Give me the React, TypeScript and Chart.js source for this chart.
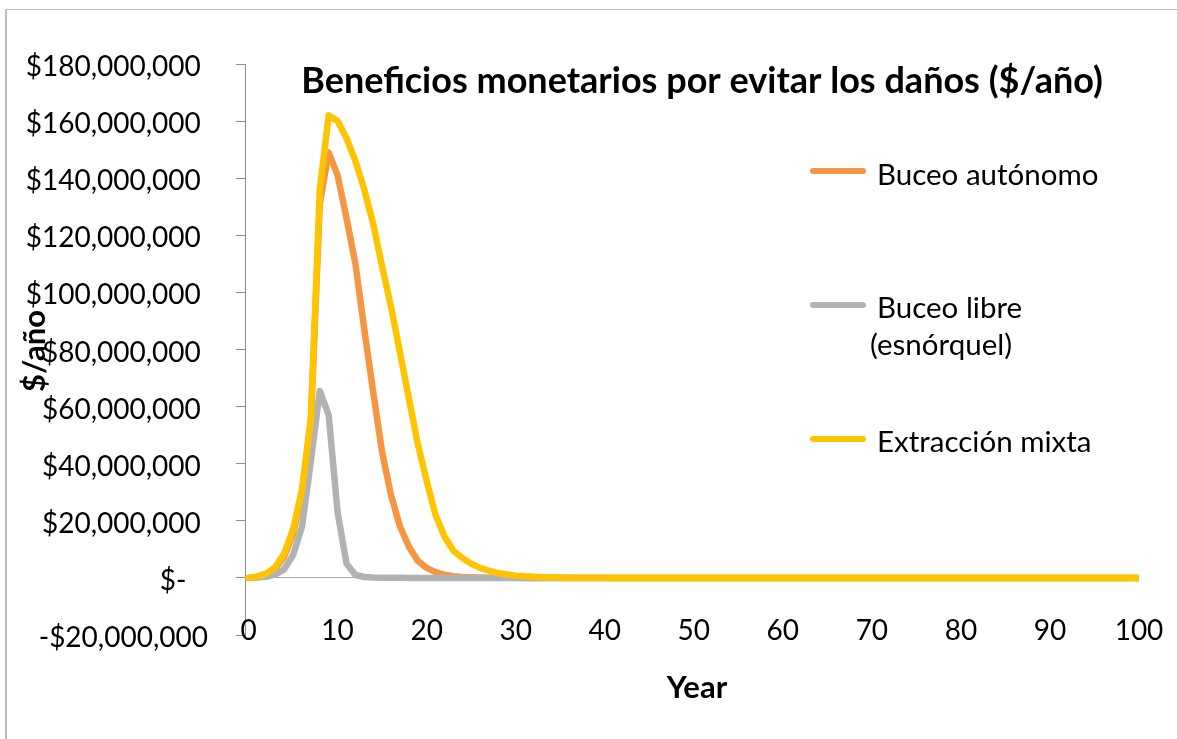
import React, { useEffect, useRef } from "react";
import { Chart, registerables } from "chart.js";

Chart.register(...registerables);

// ---- Data (values in millions of $/año) ----
const years = [
  0, 1, 2, 3, 4, 5, 6, 7, 8, 9,
  10, 11, 12, 13, 14, 15, 16, 17, 18, 19,
  20, 21, 22, 23, 24, 25, 26, 27, 28, 29,
  30, 31, 32, 33, 34, 35, 36, 37, 38, 39,
  40, 41, 42, 43, 44, 45, 46, 47, 48, 49,
  50, 51, 52, 53, 54, 55, 56, 57, 58, 59,
  60, 61, 62, 63, 64, 65, 66, 67, 68, 69,
  70, 71, 72, 73, 74, 75, 76, 77, 78, 79,
  80, 81, 82, 83, 84, 85, 86, 87, 88, 89,
  90, 91, 92, 93, 94, 95, 96, 97, 98, 99,
  100,
];

const buceoAutonomo = [
  0, 0.45, 1.4, 3.3, 7.5, 15.5, 30, 55, 131, 149,
  141, 126, 110, 87, 65, 44, 29, 18, 11, 6,
  3.5, 2, 1.1, 0.6, 0.35, 0.2, 0.1, 0.06, 0.03, 0.02,
  0.01, 0, 0, 0, 0, 0, 0, 0, 0, 0,
  0, 0, 0, 0, 0, 0, 0, 0, 0, 0,
  0, 0, 0, 0, 0, 0, 0, 0, 0, 0,
  0, 0, 0, 0, 0, 0, 0, 0, 0, 0,
  0, 0, 0, 0, 0, 0, 0, 0, 0, 0,
  0, 0, 0, 0, 0, 0, 0, 0, 0, 0,
  0, 0, 0, 0, 0, 0, 0, 0, 0, 0,
  0,
];

const buceoLibre = [
  0, 0.1, 0.4, 1.2, 3, 8, 18, 41, 65.5, 57,
  23, 5, 1, 0.3, 0.1, 0.05, 0.02, 0.01, 0, 0,
  0, 0, 0, 0, 0, 0, 0, 0, 0, 0,
  0, 0, 0, 0, 0, 0, 0, 0, 0, 0,
  0, 0, 0, 0, 0, 0, 0, 0, 0, 0,
  0, 0, 0, 0, 0, 0, 0, 0, 0, 0,
  0, 0, 0, 0, 0, 0, 0, 0, 0, 0,
  0, 0, 0, 0, 0, 0, 0, 0, 0, 0,
  0, 0, 0, 0, 0, 0, 0, 0, 0, 0,
  0, 0, 0, 0, 0, 0, 0, 0, 0, 0,
  0,
];

const extraccionMixta = [
  0, 0.5, 1.5, 3.8, 8.5, 17, 31, 56, 136, 162,
  160, 154, 146, 136, 124, 109, 95, 79, 63, 47,
  34, 22, 14.5, 9.5, 7, 5, 3.5, 2.5, 1.7, 1.2,
  0.8, 0.55, 0.4, 0.27, 0.18, 0.12, 0.08, 0.05, 0.03, 0.02,
  0.01, 0, 0, 0, 0, 0, 0, 0, 0, 0,
  0, 0, 0, 0, 0, 0, 0, 0, 0, 0,
  0, 0, 0, 0, 0, 0, 0, 0, 0, 0,
  0, 0, 0, 0, 0, 0, 0, 0, 0, 0,
  0, 0, 0, 0, 0, 0, 0, 0, 0, 0,
  0, 0, 0, 0, 0, 0, 0, 0, 0, 0,
  0,
];

const xTicks = [0, 10, 20, 30, 40, 50, 60, 70, 80, 90, 100];
const yTicks = [-20, 0, 20, 40, 60, 80, 100, 120, 140, 160, 180];

const seriesLabels = [
  ["Buceo autónomo"],
  ["Buceo libre", "(esnórquel)"],
  ["Extracción mixta"],
];
const titleText = "Beneficios monetarios por evitar los daños ($/año)";
const xTitleText = "Year";
const yTitleText = "$/año";

// ---- Styles ----
const COLORS = ["#F59642", "#B2B2B2", "#FFC400"];
const FONT = "Lato, 'Open Sans', sans-serif";
const AXIS_GRAY = "#8C8C8C";

function formatMoney(v: number): string {
  if (v === 0) return "$-   ";
  if (v < 0) return "-$" + Math.abs(v) + ",000,000";
  return "$" + v + ",000,000 ";
}

const framePlugin = {
  id: "frame",
  beforeDraw(chart: any) {
    const { ctx, width, height } = chart;
    ctx.save();
    ctx.fillStyle = "#ffffff";
    ctx.fillRect(0, 0, width, height);
    ctx.strokeStyle = "#BDBDBD";
    ctx.lineWidth = 2;
    ctx.beginPath();
    ctx.moveTo(6, 9);
    ctx.lineTo(6, height);
    ctx.stroke();
    ctx.lineWidth = 1;
    ctx.beginPath();
    ctx.moveTo(5, 9.5);
    ctx.lineTo(width, 9.5);
    ctx.stroke();
    ctx.restore();
  },
};

const textPlugin = {
  id: "texts",
  afterDraw(chart: any) {
    const { ctx } = chart;
    const xScale = chart.scales.x;
    ctx.save();
    ctx.fillStyle = "#000";

    // X tick labels (low position, below the plot like Excel)
    ctx.font = `28px ${FONT}`;
    ctx.textAlign = "center";
    ctx.textBaseline = "middle";
    xTicks.forEach((v) => {
      ctx.fillText(String(v), xScale.getPixelForValue(v), 631);
    });

    // Title
    ctx.font = `bold 36px ${FONT}`;
    ctx.textAlign = "center";
    ctx.textBaseline = "alphabetic";
    ctx.fillText(titleText, 702, 93);

    // Axis titles
    ctx.font = `bold 31px ${FONT}`;
    ctx.textBaseline = "middle";
    ctx.fillText(xTitleText, 697, 688);
    ctx.save();
    ctx.translate(35, 351);
    ctx.rotate(-Math.PI / 2);
    ctx.fillText(yTitleText, 0, 0);
    ctx.restore();

    // Legend
    const lineYs = [171, 305, 439];
    const baselines = [[185], [318, 355], [452]];
    const textXs = [[877], [877, 870], [877]];
    ctx.font = `29.5px ${FONT}`;
    ctx.textAlign = "left";
    ctx.textBaseline = "alphabetic";
    ctx.lineCap = "round";
    ctx.lineWidth = 6;
    seriesLabels.forEach((lines, i) => {
      ctx.strokeStyle = COLORS[i];
      ctx.beginPath();
      ctx.moveTo(813, lineYs[i]);
      ctx.lineTo(863, lineYs[i]);
      ctx.stroke();
      lines.forEach((t, j) => {
        ctx.fillText(t, textXs[i][j], baselines[i][j]);
      });
    });
    ctx.restore();
  },
};

export default function App() {
  const ref = useRef<HTMLCanvasElement | null>(null);

  useEffect(() => {
    document.body.style.margin = "0";
    const canvas = ref.current;
    if (!canvas) return;

    const series = [buceoAutonomo, buceoLibre, extraccionMixta];
    const orders = [3, 2, 1];
    const datasets = series.map((vals, i) => ({
      label: seriesLabels[i].join(" "),
      data: years.map((x, k) => ({ x, y: vals[k] })),
      borderColor: COLORS[i],
      backgroundColor: COLORS[i],
      borderWidth: 6.5,
      borderJoinStyle: "round" as const,
      borderCapStyle: "round" as const,
      pointRadius: 0,
      tension: 0,
      fill: false,
      order: orders[i],
    }));

    const chart = new Chart(canvas, {
      type: "line",
      data: { datasets },
      options: {
        responsive: false,
        animation: false,
        layout: { padding: { left: 0, top: 64, right: 38, bottom: 0 } },
        plugins: {
          legend: { display: false },
          title: { display: false },
          tooltip: { enabled: false },
        },
        scales: {
          x: {
            type: "linear",
            min: -0.4,
            max: 100,
            afterBuildTicks: (s: any) => {
              s.ticks = xTicks.map((v) => ({ value: v }));
            },
            afterFit: (s: any) => {
              s.height = 104;
              s.paddingLeft = 0;
              s.paddingRight = 0;
            },
            grid: { display: false, drawTicks: false },
            border: { display: false },
            ticks: { display: false },
          },
          y: {
            type: "linear",
            min: -20,
            max: 180,
            afterBuildTicks: (s: any) => {
              s.ticks = yTicks.map((v) => ({ value: v }));
            },
            afterFit: (s: any) => {
              s.width = 245;
              s.paddingTop = 0;
              s.paddingBottom = 0;
            },
            grid: {
              color: (c: any) =>
                c.tick && c.tick.value === 0 ? "#A6A6A6" : "rgba(0,0,0,0)",
              tickColor: AXIS_GRAY,
              tickLength: 9,
              lineWidth: 1,
            },
            border: { display: true, color: AXIS_GRAY, width: 1 },
            ticks: {
              padding: 28,
              labelOffset: 3,
              color: "#000",
              font: { family: FONT, size: 28 },
              autoSkip: false,
              callback: (v: any) => formatMoney(Number(v)),
            },
          },
        },
      },
      plugins: [framePlugin, textPlugin],
    });

    let alive = true;
    if ((document as any).fonts && (document as any).fonts.ready) {
      (document as any).fonts.ready.then(() => {
        if (alive) chart.update();
      });
    }

    return () => {
      alive = false;
      chart.destroy();
    };
  }, []);

  return (
    <canvas
      ref={ref}
      width={1177}
      height={739}
      style={{ display: "block" }}
    />
  );
}
